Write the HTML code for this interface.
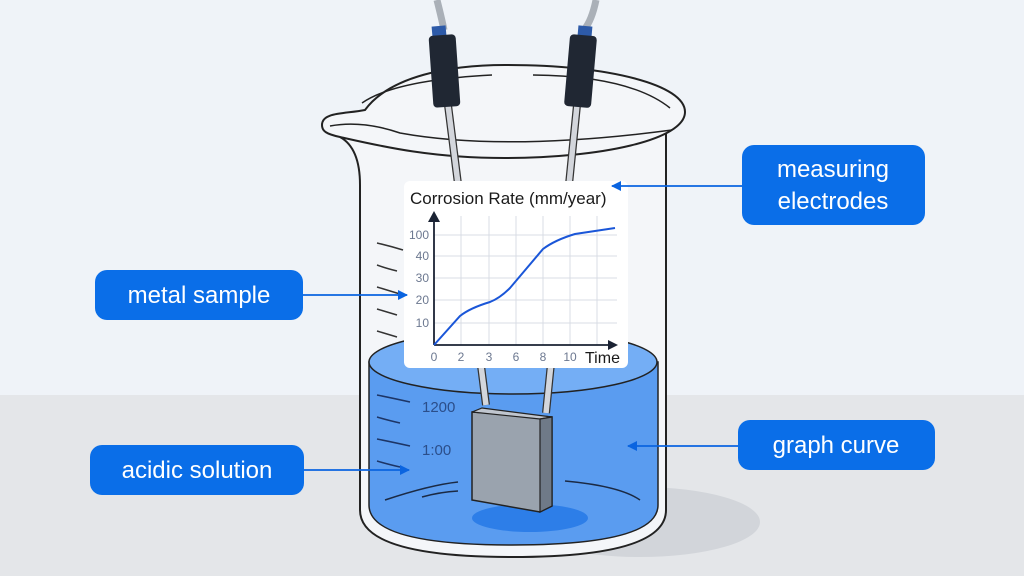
<!DOCTYPE html>
<html><head><style>
html,body{margin:0;padding:0;width:1024px;height:576px;overflow:hidden;background:#eff3f8}
svg{display:block}
text{font-family:"Liberation Sans",sans-serif}
</style></head><body>
<svg width="1024" height="576" viewBox="0 0 1024 576" xmlns="http://www.w3.org/2000/svg">
<defs>
<marker id="ah" markerWidth="10" markerHeight="10" refX="9" refY="5" orient="auto" markerUnits="userSpaceOnUse"><path d="M0,0 L10,5 L0,10 z" fill="#0a64e0"/></marker>
</defs>
<rect width="1024" height="395" fill="#eff3f8"/>
<rect y="395" width="1024" height="181" fill="#e4e6e9"/>
<ellipse cx="640" cy="522" rx="120" ry="35" fill="#d2d5da"/>
<!-- beaker body -->
<path d="M340,137 Q360,148 360,185 L360,510 Q360,557 512,557 Q666,557 666,510 L666,130" fill="#f4f6f9" stroke="#222" stroke-width="2"/>
<!-- liquid -->
<path d="M369,362 L369,505 Q369,545 512,545 Q658,545 658,505 L658,362 Z" fill="#5a9cf0" stroke="#222" stroke-width="1.5"/>
<ellipse cx="513" cy="362" rx="144" ry="32" fill="#74aef5" stroke="#222" stroke-width="1.5"/>
<ellipse cx="530" cy="518" rx="58" ry="14" fill="#2d7ee8"/>
<path d="M385,500 Q430,485 458,482 M422,497 Q440,492 458,491 M565,481 Q620,486 640,500" stroke="#1b2a44" stroke-width="1.5" fill="none"/>
<!-- graduations -->
<g stroke="#333" stroke-width="1.5" fill="none">
<path d="M377,243 Q390,246 403,250 M377,265 Q385,268 397,271 M377,287 Q387,290 400,294 M377,309 Q387,312 397,315 M377,331 Q387,334 397,337"/>
<path d="M377,395 Q392,398 410,402 M377,417 Q387,420 400,423 M377,439 Q392,442 410,446 M377,461 Q387,464 400,467" stroke="#1d3566"/>
</g>
<text x="422" y="412" font-size="15" fill="#2b4e8a">1200</text>
<text x="422" y="455" font-size="15" fill="#2b4e8a">1:00</text>
<!-- rim -->
<path d="M322,125 C322,112 345,114 365,110 C390,76 450,65 505,65 C610,65 685,85 685,112 C685,140 600,158 505,158 C430,158 380,146 340,137 C326,134 322,131 322,125 Z" fill="#f4f6f9" stroke="#222" stroke-width="2"/>
<path d="M330,126 Q362,120 400,133 Q505,152 672,130" stroke="#222" stroke-width="1.5" fill="none"/>
<path d="M362,103 Q395,80 492,75 M533,75 Q630,76 670,108" stroke="#222" stroke-width="1.5" fill="none"/>
<!-- electrodes -->
<path d="M437,0 Q442,20 444,30" stroke="#aab0b8" stroke-width="7" fill="none"/>
<path d="M596,0 Q592,20 584,30" stroke="#aab0b8" stroke-width="7" fill="none"/>
<path d="M448,105 L486,405" stroke="#333" stroke-width="8"/>
<path d="M448,105 L486,405" stroke="#d3d6dc" stroke-width="5.5"/>
<path d="M577,105 L546,413" stroke="#333" stroke-width="8"/>
<path d="M577,105 L546,413" stroke="#d3d6dc" stroke-width="5.5"/>
<rect x="432" y="26" width="14" height="10" fill="#2d5aa8" transform="rotate(-5 439 31)"/>
<rect x="578" y="26" width="14" height="10" fill="#2d5aa8" transform="rotate(5 585 31)"/>
<rect x="431" y="35" width="27" height="72" rx="4" fill="#202733" transform="rotate(-4 444 71)"/>
<rect x="567" y="35" width="27" height="72" rx="4" fill="#202733" transform="rotate(5 580 71)"/>
<!-- sample block -->
<path d="M472,412 L552,417 L552,506 L540,512 L472,500 Z" fill="#9aa3ae" stroke="#222" stroke-width="1.5"/>
<path d="M472,412 L482,408 L552,417 L540,419 Z" fill="#c0c6cf" stroke="#222" stroke-width="1.2"/>
<path d="M540,419 L552,417 L552,506 L540,512 Z" fill="#6f7a88" stroke="#222" stroke-width="1.2"/>
<!-- chart card -->
<rect x="404" y="181" width="224" height="187" rx="6" fill="#ffffff"/>
<text x="410" y="204" font-size="17" fill="#1a1a1a">Corrosion Rate (mm/year)</text>
<g stroke="#d8dce4" stroke-width="1">
<path d="M461,216V345M489,216V345M516,216V345M543,216V345M570,216V345M597,216V345"/>
<path d="M434,235H617M434,256H617M434,278H617M434,300H617M434,323H617"/>
</g>
<path d="M434,345V220" stroke="#1a2233" stroke-width="1.8"/>
<path d="M428,222 L434,211 L440,222 z" fill="#1a2233"/>
<path d="M434,345H610" stroke="#1a2233" stroke-width="1.8"/>
<path d="M608,340 L618,345 L608,350 z" fill="#1a2233"/>
<g font-size="12" fill="#6c7890" text-anchor="end">
<text x="429" y="239">100</text><text x="429" y="260">40</text><text x="429" y="282">30</text><text x="429" y="304">20</text><text x="429" y="327">10</text>
</g>
<g font-size="12" fill="#6c7890" text-anchor="middle">
<text x="434" y="361">0</text><text x="461" y="361">2</text><text x="489" y="361">3</text><text x="516" y="361">6</text><text x="543" y="361">8</text><text x="570" y="361">10</text>
</g>
<text x="585" y="363" font-size="16" fill="#1a1a1a">Time</text>
<path d="M434,345 L460,316 Q470,308 490,302 Q500,298 510,288 L543,249 Q555,240 575,234 L615,228" stroke="#1a56d8" stroke-width="2" fill="none"/>
<!-- labels -->
<g fill="#0a6ee8">
<rect x="742" y="145" width="183" height="80" rx="12"/>
<rect x="95" y="270" width="208" height="50" rx="12"/>
<rect x="90" y="445" width="214" height="50" rx="12"/>
<rect x="738" y="420" width="197" height="50" rx="12"/>
</g>
<g font-size="24" fill="#fff" text-anchor="middle">
<text x="833" y="177">measuring</text>
<text x="833" y="209">electrodes</text>
<text x="199" y="303">metal sample</text>
<text x="197" y="478">acidic solution</text>
<text x="836" y="453">graph curve</text>
</g>
<g stroke="#0a64e0" stroke-width="1.8" marker-end="url(#ah)">
<path d="M742,186 H612"/>
<path d="M303,295 H407"/>
<path d="M304,470 H409"/>
<path d="M738,446 H628"/>
</g>
</svg>
</body></html>
